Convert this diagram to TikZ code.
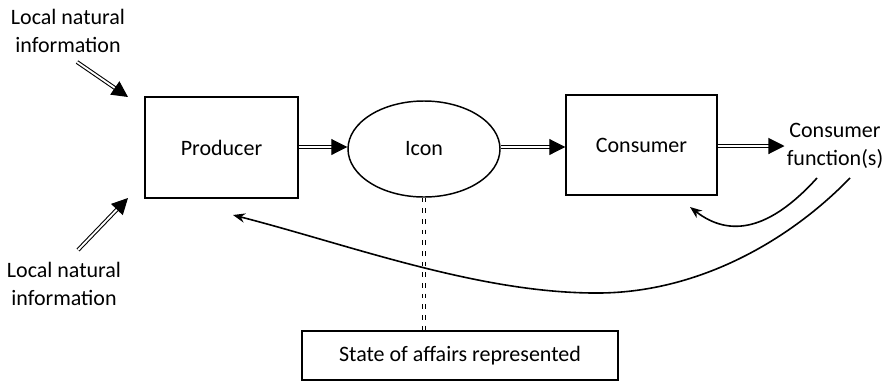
\documentclass[tikz,border=0pt]{standalone}
\usepackage{fontspec}
\setmainfont{Carlito}
\usetikzlibrary{arrows.meta,shapes.geometric}

\tikzset{
  lbl/.style={inner sep=1.5pt, align=center, font=\fontsize{16.5}{21}\selectfont},
  boxnode/.style={draw, line width=1.1pt, lbl},
  dblarrow/.style={draw, line width=0.8pt, double, double distance=1.4pt, -{Triangle[length=12pt,width=12pt]}},
  curvarrow/.style={draw, line width=1.2pt, -{Stealth[length=9pt,width=7pt]}},
  dotlink/.style={draw, line width=1.1pt, double, double distance=1.3pt, dash pattern=on 3.5pt off 4.5pt}
}

\begin{document}
\begin{tikzpicture}[x=0.75pt,y=0.75pt,yscale=-1,xscale=1]
\useasboundingbox (0,0) rectangle (888,383);

%Shape: Rectangle 
\draw (221.5,147.5) node [boxnode, minimum width=114.75pt, minimum height=75.75pt] (producer) {Producer};
%Shape: Ellipse 
\draw (424,149) node [boxnode, ellipse, minimum width=114pt, minimum height=72pt] (icon) {Icon};
%Shape: Rectangle 
\draw (641.5,145) node [boxnode, minimum width=113.25pt, minimum height=75pt] (consumer) {Consumer};
%Shape: Rectangle 
\draw (460,355.5) node [boxnode, minimum width=237pt, minimum height=36.75pt] (state) {State of affairs represented};

% Text Node
\draw (835,146) node [lbl] (cfunc) {Consumer\\function(s)};
% Text Node
\draw (68,31) node [lbl] (infotop) {Local natural\\information};
% Text Node
\draw (64,284) node [lbl] (infobot) {Local natural\\information};

% free ends
\coordinate (topfrom) at (77,62);
\coordinate (topto) at (128,97);
\coordinate (botfrom) at (78,250);
\coordinate (botto) at (128,198);
\coordinate (fbfrom) at (817,178);
\coordinate (fbto) at (690,207);
\coordinate (longfrom) at (850,178);
\coordinate (longto) at (233,215);

%Double Arrows 
\draw [dblarrow] (producer.east |- 0,147) -- (icon.west |- 0,147);
\draw [dblarrow] (icon.east |- 0,147) -- (consumer.west |- 0,147);
\draw [dblarrow] (consumer.east |- 0,146) -- (cfunc.west |- 0,146);
\draw [dblarrow] (topfrom) -- (topto);
\draw [dblarrow] (botfrom) -- (botto);

%Dotted link 
\draw [dotlink] (icon.south) -- (icon.south |- state.north);

%Curve Lines 
\draw [curvarrow] (fbfrom) .. controls (770,230) and (730,238) .. (fbto);
\draw [curvarrow] (longfrom) .. controls (790,240) and (700,292) .. (600,293) .. controls (480,294) and (350,245) .. (longto);

\end{tikzpicture}
\end{document}
